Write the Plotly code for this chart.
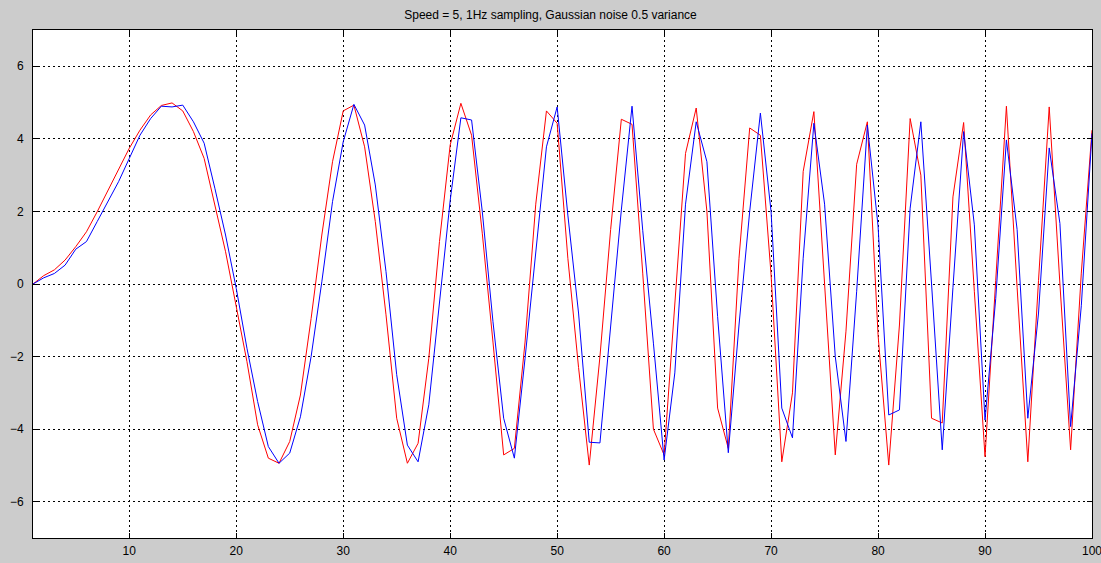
import plotly.graph_objects as go

t = list(range(1, 101))

red = [0.0, 0.23, 0.39, 0.66, 1.03, 1.44, 1.99, 2.57, 3.14, 3.74,
       4.24, 4.66, 4.92, 4.99, 4.77, 4.2, 3.46, 2.18, 0.89, -0.62,
       -2.14, -3.88, -4.8, -4.94, -4.34, -3.06, -0.95, 1.35, 3.37, 4.77,
       4.93, 3.78, 1.72, -0.85, -3.7, -4.94, -4.39, -2.05, 1.17, 3.83,
       4.98, 4.1, 1.4, -1.6, -4.71, -4.53, -1.6, 2.2, 4.77, 4.43,
       0.71, -2.3, -4.99, -2.0, 1.5, 4.54, 4.4, 0.3, -4.0, -4.71,
       -0.6, 3.6, 4.85, 2.0, -3.42, -4.53, 0.71, 4.3, 4.1, 0.25,
       -4.9, -3.0, 3.1, 4.75, 0.0, -4.71, -1.3, 3.3, 4.47, -1.4,
       -4.99, -1.13, 4.56, 3.0, -3.7, -3.83, 2.4, 4.45, -0.2, -4.76,
       0.1, 4.9, -0.1, -4.9, 0.1, 4.88, 0.0, -4.57, 0.3, 4.24]

blue = [0.0, 0.17, 0.29, 0.52, 0.96, 1.17, 1.72, 2.27, 2.82, 3.46,
        4.1, 4.56, 4.9, 4.88, 4.93, 4.47, 3.88, 2.64, 1.35, -0.12,
        -1.77, -3.24, -4.48, -4.94, -4.66, -3.66, -2.0, 0.06, 2.27, 3.92,
        4.95, 4.38, 2.73, 0.34, -2.5, -4.44, -4.9, -3.33, -0.5, 2.3,
        4.58, 4.52, 2.0, -1.04, -3.7, -4.8, -2.05, 0.9, 3.78, 4.88,
        1.9, -0.8, -4.36, -4.38, -1.18, 2.04, 4.9, 1.48, -1.63, -4.85,
        -2.45, 2.2, 4.47, 3.37, -0.9, -4.65, -1.13, 2.0, 4.71, 1.99,
        -3.42, -4.24, 0.71, 4.43, 2.2, -2.0, -4.34, -0.2, 4.38, 1.6,
        -3.61, -3.47, 2.09, 4.47, 0.0, -4.57, -0.1, 4.2, 1.63, -3.75,
        -0.4, 3.97, 1.5, -3.7, -0.8, 3.75, 1.67, -3.93, -0.6, 4.15]

title_text = "Speed = 5, 1Hz sampling, Gaussian noise 0.5 variance"
x_ticks = [10, 20, 30, 40, 50, 60, 70, 80, 90, 100]
y_ticks = [-6, -4, -2, 0, 2, 4, 6]

fig = go.Figure()
fig.add_trace(go.Scatter(x=t, y=red, mode="lines",
                         line=dict(color="#ff0000", width=1), showlegend=False))
fig.add_trace(go.Scatter(x=t, y=blue, mode="lines",
                         line=dict(color="#0000ff", width=1), showlegend=False))

axis_common = dict(showline=True, linecolor="black", linewidth=1, mirror="ticks",
                   ticks="inside", ticklen=5, tickcolor="black",
                   showgrid=True, gridcolor="black", gridwidth=1, griddash="2px,3px",
                   zeroline=False, automargin=False, ticklabeloverflow="allow",
                   tickfont=dict(family="Liberation Sans", size=12, color="black"))

fig.update_layout(
    width=1101, height=563,
    margin=dict(l=33, r=9, t=30, b=25, autoexpand=False),
    paper_bgcolor="#cccccc", plot_bgcolor="white",
    title=dict(text=title_text, x=0.5, xanchor="center", y=0.973, yanchor="middle",
               font=dict(family="Liberation Sans", size=12, color="black"),
               automargin=False),
    xaxis=dict(range=[1, 100], tickvals=x_ticks, ticklabelstandoff=2, **axis_common),
    yaxis=dict(range=[-7, 7], tickvals=y_ticks, ticklabelstandoff=6, **axis_common),
)

fig.write_html("out.html", config={"displayModeBar": False},
               post_script="document.body.style.margin='0';document.body.style.overflow='hidden';")
